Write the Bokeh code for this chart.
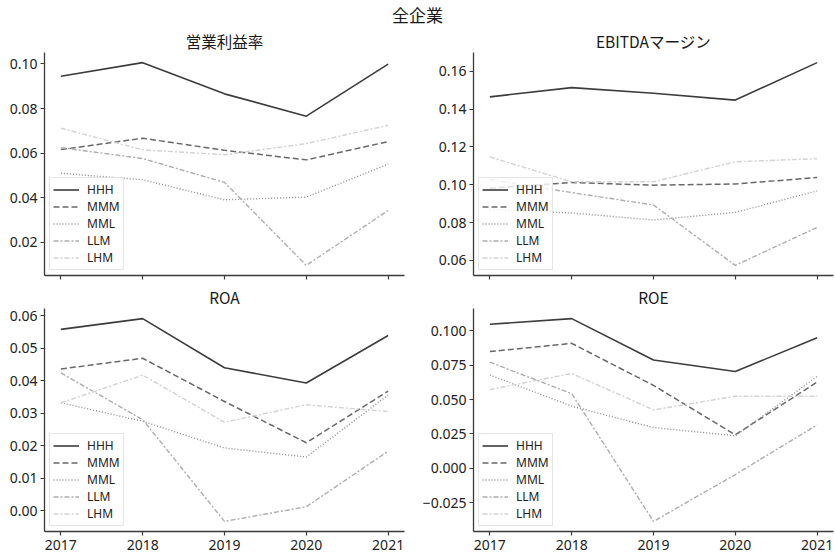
from bokeh.plotting import figure
from bokeh.layouts import column, row
from bokeh.models import (Div, FixedTicker, Range1d, Legend, LegendItem,
                          CustomJSTickFormatter)
from bokeh.embed import file_html
from bokeh.resources import INLINE

FONT_JP = "Noto Sans CJK JP"
FONT = "Noto Sans"

years = [2017, 2018, 2019, 2020, 2021]
groups = ["HHH", "MMM", "MML", "LLM", "LHM"]

# 営業利益率
opm_hhh = [0.0945, 0.1006, 0.0866, 0.0766, 0.0999]
opm_mmm = [0.0616, 0.0667, 0.0613, 0.0570, 0.0652]
opm_mml = [0.0510, 0.0481, 0.0391, 0.0403, 0.0551]
opm_llm = [0.0625, 0.0576, 0.0469, 0.0097, 0.0343]
opm_lhm = [0.0712, 0.0615, 0.0593, 0.0643, 0.0725]

# EBITDAマージン
ebitda_hhh = [0.1465, 0.1514, 0.1484, 0.1448, 0.1646]
ebitda_mmm = [0.0982, 0.1012, 0.0998, 0.1004, 0.1039]
ebitda_mml = [0.0868, 0.0851, 0.0814, 0.0854, 0.0968]
ebitda_llm = [0.1028, 0.0959, 0.0893, 0.0574, 0.0775]
ebitda_lhm = [0.1147, 0.1016, 0.1016, 0.1122, 0.1138]

# ROA
roa_hhh = [0.0558, 0.0591, 0.0440, 0.0393, 0.0539]
roa_mmm = [0.0436, 0.0469, 0.0336, 0.0209, 0.0368]
roa_mml = [0.0332, 0.0275, 0.0193, 0.0165, 0.0356]
roa_llm = [0.0424, 0.0280, -0.0033, 0.0012, 0.0183]
roa_lhm = [0.0332, 0.0417, 0.0272, 0.0326, 0.0305]

# ROE
roe_hhh = [0.1048, 0.1089, 0.0788, 0.0704, 0.0950]
roe_mmm = [0.0849, 0.0909, 0.0603, 0.0243, 0.0627]
roe_mml = [0.0678, 0.0452, 0.0296, 0.0236, 0.0668]
roe_llm = [0.0772, 0.0543, -0.0387, -0.0046, 0.0315]
roe_lhm = [0.0572, 0.0690, 0.0425, 0.0524, 0.0524]

opm_ticks = [0.02, 0.04, 0.06, 0.08, 0.10]
ebitda_ticks = [0.06, 0.08, 0.10, 0.12, 0.14, 0.16]
roa_ticks = [0.00, 0.01, 0.02, 0.03, 0.04, 0.05, 0.06]
roe_ticks = [-0.025, 0.000, 0.025, 0.050, 0.075, 0.100]

# grey line styles per group
line_colors = {"HHH": "#3c3c3c", "MMM": "#686868", "MML": "#8c8c8c",
               "LLM": "#adadad", "LHM": "#d2d2d2"}
line_dashes = {"HHH": "solid", "MMM": "6 3", "MML": "1 2",
               "LLM": "5 2 2 2", "LHM": "5 2 2 2"}
line_widths = {"HHH": 1.6, "MMM": 1.5, "MML": 1.4, "LLM": 1.4, "LHM": 1.4}


def make_panel(title, series, ticks, decimals, show_xlabels,
               border_left, border_right, border_bottom):
    lo = min(min(s) for s in series)
    hi = max(max(s) for s in series)
    pad = (hi - lo) * 0.05
    xpad = (years[-1] - years[0]) * 0.05
    p = figure(frame_width=360, frame_height=223,
               x_range=Range1d(years[0] - xpad, years[-1] + xpad),
               y_range=Range1d(lo - pad, hi + pad),
               output_backend="svg", toolbar_location=None,
               min_border_left=border_left, min_border_right=border_right,
               min_border_top=28, min_border_bottom=border_bottom)
    p.outline_line_color = None
    p.grid.grid_line_color = None
    p.background_fill_color = "white"
    p.border_fill_color = "white"

    p.title.text = title
    p.title.align = "center"
    p.title.text_font = FONT_JP
    p.title.text_font_size = "15.5px"
    p.title.text_font_style = "normal"
    p.title.text_color = "#1a1a1a"
    p.title.standoff = 2
    p.title.offset = 0

    for ax in (p.xaxis[0], p.yaxis[0]):
        ax.axis_line_color = "#3a3a3a"
        ax.axis_line_width = 1.3
        ax.major_tick_line_color = "#3a3a3a"
        ax.major_tick_line_width = 1.2
        ax.major_tick_out = 4
        ax.major_tick_in = 0
        ax.minor_tick_line_color = None
        ax.major_label_text_font = FONT
        ax.major_label_text_font_size = "14px"
        ax.major_label_text_color = "#222222"
        ax.major_label_standoff = 3

    p.xaxis.ticker = FixedTicker(ticks=years)
    if show_xlabels:
        p.xaxis.major_label_standoff = 4
    else:
        # ticks only, the year labels live on the lower row
        p.xaxis.major_label_text_color = None
        p.xaxis.major_label_text_font_size = "0px"
        p.xaxis.major_label_standoff = 0
    p.yaxis.ticker = FixedTicker(ticks=ticks)
    p.yaxis.formatter = CustomJSTickFormatter(
        args=dict(d=decimals),
        code="const s = Math.abs(tick).toFixed(d); return tick < -1e-12 ? '\u2212' + s : s;")

    items = []
    for name, vals in zip(groups, series):
        r = p.line(years, vals, line_color=line_colors[name],
                   line_dash=line_dashes[name], line_width=line_widths[name])
        items.append(LegendItem(label=name, renderers=[r]))

    legend = Legend(items=items, location="bottom_left", margin=5,
                    padding=3, spacing=0, label_height=17, glyph_height=17,
                    glyph_width=26, label_standoff=8,
                    label_text_font=FONT, label_text_font_size="12px",
                    label_text_color="#222222",
                    border_line_color="#cccccc", border_line_width=1,
                    background_fill_color="white", background_fill_alpha=0.8)
    p.add_layout(legend, "center")
    return p


p1 = make_panel("営業利益率", [opm_hhh, opm_mmm, opm_mml, opm_llm, opm_lhm],
                opm_ticks, 2, False, 44, 14, 5)
p2 = make_panel("EBITDAマージン", [ebitda_hhh, ebitda_mmm, ebitda_mml, ebitda_llm, ebitda_lhm],
                ebitda_ticks, 2, False, 55, 2, 5)
p3 = make_panel("ROA", [roa_hhh, roa_mmm, roa_mml, roa_llm, roa_lhm],
                roa_ticks, 2, True, 44, 14, 20)
p4 = make_panel("ROE", [roe_hhh, roe_mmm, roe_mml, roe_llm, roe_lhm],
                roe_ticks, 3, True, 55, 2, 20)

header = Div(text='<div style="position:relative; top:3px">全企業</div>',
             width=835, height=24, margin=0,
             styles={"text-align": "center", "font-family": FONT_JP,
                     "font-size": "17px", "color": "#1a1a1a",
                     "line-height": "24px", "width": "835px"})

layout = column(header, row(p1, p2, spacing=0), row(p3, p4, spacing=0), spacing=0)

with open("out.html", "w") as f:
    f.write(file_html(layout, INLINE, title="全企業"))
